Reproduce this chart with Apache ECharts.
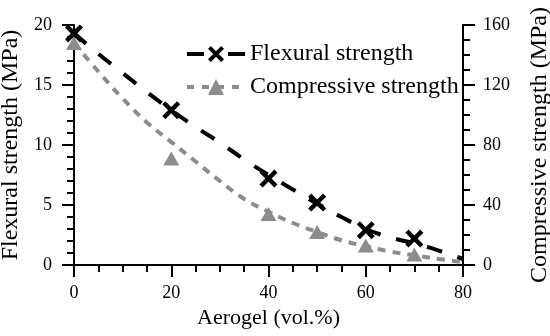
<!DOCTYPE html>
<html>
<head>
<meta charset="utf-8">
<script src="https://cdn.jsdelivr.net/npm/echarts@6/dist/echarts.min.js"></script>
<style>html,body{margin:0;padding:0;background:#fff;}#c{width:550px;height:336px;}</style>
</head>
<body>
<div id="c"></div>
<script>
// measured points
var aerogel = [0, 20, 40, 50, 60, 70];
var flexural = [19.3, 12.9, 7.2, 5.2, 2.9, 2.2];
var compressive = [148, 71, 34, 22, 13, 7];
// fitted trend curves
var fitX = [0, 5, 10, 15, 20, 25, 30, 35, 40, 45, 50, 55, 60, 65, 70, 75, 80];
var flexFit = [19.3, 17.6, 16.0, 14.4, 12.9, 11.5, 10.2, 8.8, 7.5, 6.3, 5.1, 4.0, 3.0, 2.3, 1.8, 1.2, 0.5];
var compFit = [148, 129, 111, 95, 82, 69, 56, 44, 35.5, 28, 22, 16.5, 12.5, 9, 6.5, 4, 2];
var xTicks = [0, 20, 40, 60, 80];
var leftTicks = [0, 5, 10, 15, 20];
var rightTicks = [0, 40, 80, 120, 160];
var names = ['Flexural strength', 'Compressive strength'];

var FONT = 'Liberation Serif';
var GRAY = '#8c8c8c';
var XPATH = 'path://M0,3.5 L3.5,0 L10,6.5 L16.5,0 L20,3.5 L13.5,10 L20,16.5 L16.5,20 L10,13.5 L3.5,20 L0,16.5 L6.5,10 Z';

function zip(xs, ys) { return xs.map(function (x, i) { return [x, ys[i]]; }); }

var axisCommon = {
  axisLine: { show: true, lineStyle: { color: '#000', width: 2 } },
  axisTick: { show: true, inside: false, length: 12, lineStyle: { color: '#000', width: 2 } },
  minorTick: { show: true, length: 7, lineStyle: { color: '#000', width: 2 } },
  splitLine: { show: false },
  axisLabel: { color: '#000', fontFamily: FONT, fontSize: 18 },
  nameTextStyle: { color: '#000', fontFamily: FONT, fontSize: 24 }
};

var chart = echarts.init(document.getElementById('c'), null, { renderer: 'canvas' });
chart.setOption({
  animation: false,
  backgroundColor: '#fff',
  grid: { left: 74, right: 87, top: 25, bottom: 71, containLabel: false, outerBoundsMode: 'none' },
  legend: {
    orient: 'vertical',
    left: 185,
    top: 42,
    padding: 0,
    itemWidth: 58,
    itemHeight: 20,
    itemGap: 9,
    textStyle: { color: '#000', fontFamily: FONT, fontSize: 24 },
    data: [
      { name: names[0], lineStyle: { color: '#000', width: 4, type: [17, 24], opacity: 1 } },
      { name: names[1], lineStyle: { color: GRAY, width: 4, type: [7, 8], opacity: 1 } }
    ]
  },
  xAxis: Object.assign({}, axisCommon, {
    type: 'value', min: xTicks[0], max: xTicks[xTicks.length - 1], interval: 20,
    minorTick: Object.assign({}, axisCommon.minorTick, { splitNumber: 4 }),
    axisLabel: Object.assign({}, axisCommon.axisLabel, { margin: 19 }),
    name: 'Aerogel (vol.%)', nameLocation: 'middle', nameGap: 41,
    nameTextStyle: Object.assign({}, axisCommon.nameTextStyle, { fontSize: 22 })
  }),
  yAxis: [
    Object.assign({}, axisCommon, {
      type: 'value', position: 'left', min: leftTicks[0], max: leftTicks[leftTicks.length - 1], interval: 5,
      minorTick: Object.assign({}, axisCommon.minorTick, { splitNumber: 5 }),
      axisLabel: Object.assign({}, axisCommon.axisLabel, { margin: 22 }),
      name: 'Flexural strength (MPa)', nameLocation: 'middle', nameGap: 45, nameRotate: 90
    }),
    Object.assign({}, axisCommon, {
      type: 'value', position: 'right', min: rightTicks[0], max: rightTicks[rightTicks.length - 1], interval: 40,
      minorTick: Object.assign({}, axisCommon.minorTick, { splitNumber: 4 }),
      axisLabel: Object.assign({}, axisCommon.axisLabel, { margin: 20 }),
      name: 'Compressive strength (MPa)', nameLocation: 'middle', nameGap: 65, nameRotate: 90
    })
  ],
  series: [
    {
      name: 'compFit', type: 'line', yAxisIndex: 1, smooth: 0.4, showSymbol: false, silent: true,
      data: zip(fitX, compFit),
      lineStyle: { color: GRAY, width: 4, type: [8, 7] }, z: 2
    },
    {
      name: 'flexFit', type: 'line', yAxisIndex: 0, smooth: 0.4, showSymbol: false, silent: true,
      data: zip(fitX, flexFit),
      lineStyle: { color: '#000', width: 4, type: [16, 16] }, z: 2
    },
    {
      name: names[1], type: 'line', yAxisIndex: 1, data: zip(aerogel, compressive),
      symbol: 'triangle', symbolSize: [16, 14],
      itemStyle: { color: GRAY }, lineStyle: { width: 0, opacity: 0 }, z: 3
    },
    {
      name: names[0], type: 'line', yAxisIndex: 0, data: zip(aerogel, flexural),
      symbol: XPATH, symbolSize: 18,
      itemStyle: { color: '#000' }, lineStyle: { width: 0, opacity: 0 }, z: 4
    }
  ]
});
</script>
</body>
</html>
